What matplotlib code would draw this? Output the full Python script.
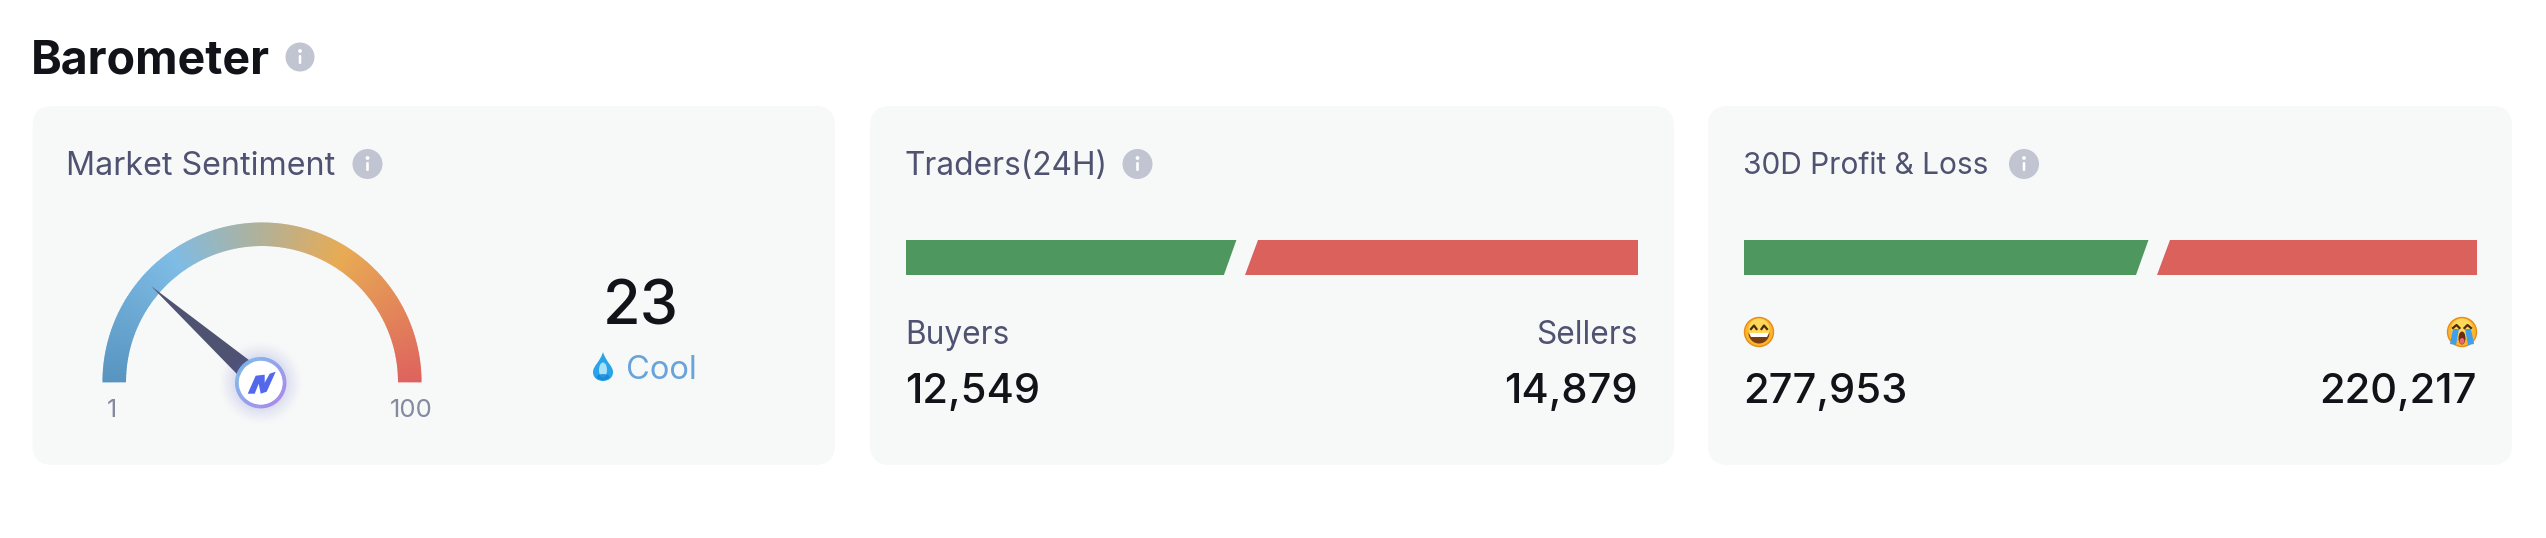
import numpy as np
import matplotlib
matplotlib.use("Agg")
import matplotlib.pyplot as plt
from matplotlib.patches import FancyBboxPatch, Circle, Polygon, Wedge, Ellipse, PathPatch
from matplotlib.path import Path
from matplotlib.colors import LinearSegmentedColormap

plt.rcParams['font.family'] = ['Inter', 'DejaVu Sans']

# ---- data ----
page_title = "Barometer"
card_titles = ["Market Sentiment", "Traders(24H)", "30D Profit & Loss"]
sentiment_value = 23
sentiment_label = "Cool"
gauge_min, gauge_max = "1", "100"
trader_labels = ["Buyers", "Sellers"]
trader_values = [12549, 14879]
pnl_values = [277953, 220217]

INK = "#111318"; MUTED = "#4f5270"; CARD = "#f7f9f9"; ICON = "#c1c4d1"
GREEN = "#4e975e"; RED = "#db615d"

fig = plt.figure(figsize=(25.46, 5.38), dpi=100, facecolor="white")
ax = fig.add_axes([0, 0, 1, 1])
ax.set_xlim(0, 2546); ax.set_ylim(538, 0); ax.axis("off")


def info(x, y, r=14.5):
    ax.add_patch(Circle((x, y), r, fc=ICON, ec="none", zorder=3))
    ax.add_patch(Circle((x, y - 6), 1.9, fc="white", ec="none", zorder=4))
    ax.add_patch(FancyBboxPatch((x - 1.3, y - 2), 2.6, 9, boxstyle="round,pad=0,rounding_size=1.2",
                                fc="white", ec="none", zorder=4))


def card(x0, x1, y0=106, y1=465):
    ax.add_patch(FancyBboxPatch((x0, y0), x1 - x0, y1 - y0, boxstyle="round,pad=0,rounding_size=20",
                                fc=CARD, ec="none", zorder=1))


ax.text(31, 56, page_title, fontsize=33.5, fontweight="bold", color=INK, va="center_baseline", ha="left", zorder=5)
info(300, 57)

cards = [(32.5, 835), (870, 1674), (1708, 2512)]
for (a, b) in cards:
    card(a, b)
title_x = [66.5, 904.5, 1743]
title_sizes = [23.2, 22.8, 21.5]
icon_x = [367.5, 1137.5, 2024]
for t, x, ix, fs in zip(card_titles, title_x, icon_x, title_sizes):
    ax.text(x, 163, t, fontsize=fs, color=MUTED, va="center_baseline", ha="left", zorder=5)
    info(ix, 164, 15)

# ---- gauge ----
cx, cy = 262, 382
R_out, R_in = 159.5, 136
cmap = LinearSegmentedColormap.from_list("gauge", [
    (0.00, "#5794bf"), (0.30, "#7ebce6"), (0.50, "#b2b198"),
    (0.68, "#e8ab54"), (1.00, "#de635e")])
n = 300
edges = np.linspace(180, 360, n + 1)
for i in range(n):
    ax.add_patch(Wedge((cx, cy), R_out, edges[i] - 0.15, edges[i + 1] + 0.15, width=R_out - R_in,
                       fc=cmap((i + .5) / n), ec="none", zorder=2))

# needle, angle from the value
frac = sentiment_value / 100
ang = np.pi * (1 - frac)
L = 146
u = np.array([np.cos(ang), -np.sin(ang)])
v = np.array([-u[1], u[0]])
c = np.array([260.7, 382.7])
ax.add_patch(Polygon([c + u * L, c + v * 11, c - v * 11], closed=True, fc=MUTED, ec="none", zorder=3))

# hub
for r, al in zip(np.arange(42, 26, -2), np.linspace(0.008, 0.03, 8)):
    ax.add_patch(Circle(c, r, fc="#6a6cf0", ec="none", alpha=al, zorder=3.5))
ring = LinearSegmentedColormap.from_list("ring", ["#7fb6ec", "#a48cec"])
m = 72
for i in range(m):
    a0 = i * 360 / m
    mid = np.deg2rad(a0 + 2.5)
    t = 0.5 + 0.5 * (np.sin(mid) * 0.7 + np.cos(mid) * 0.7) / 0.99
    ax.add_patch(Wedge(c, 25.7, a0 - .3, a0 + 360 / m + .3, width=4, fc=ring(t), ec="none", zorder=4))
ax.add_patch(Circle(c, 21.9, fc="white", ec="none", zorder=4))
logo = np.array([(-13, 11), (-5, -7), (4, -8), (4, 0), (9, -9), (15, -11), (6, 9), (0, 11),
                 (-2, 1), (-6, 11)], float)
ax.add_patch(Polygon(c + logo, closed=True, fc="#5468ec", ec="none", zorder=5))

ax.text(112, 408, gauge_min, fontsize=18, color="#878a9e", ha="center", va="center_baseline", zorder=5)
ax.text(411, 408, gauge_max, fontsize=18.5, color="#878a9e", ha="center", va="center_baseline", zorder=5)

ax.text(641, 302, str(sentiment_value), fontsize=44, fontweight=500, color=INK, ha="center", va="center_baseline", zorder=5)
ax.text(626, 367, sentiment_label, fontsize=23.5, color="#68a3dc", ha="left", va="center_baseline", zorder=5)
# droplet
dx, dy = 603, 352
drop = Path([(dx, dy), (dx + 3, dy + 10), (dx + 10, dy + 14), (dx + 10, dy + 20), (dx + 10, dy + 26), (dx + 5, dy + 29),
             (dx, dy + 29), (dx - 5, dy + 29), (dx - 10, dy + 26), (dx - 10, dy + 20), (dx - 10, dy + 14), (dx - 3, dy + 10), (dx, dy)],
            [Path.MOVETO] + [Path.CURVE4] * 12)
ax.add_patch(PathPatch(drop, fc="#28a4e8", ec="none", zorder=5))
ax.add_patch(Ellipse((dx, dy + 18), 8, 15, fc="#a8e0fa", ec="none", zorder=6))
ax.add_patch(Ellipse((dx, dy + 25), 13, 6, fc="#1285d8", ec="none", zorder=6, alpha=.8))


# ---- split bars ----
def split_bar(left, right, values, top=240, bottom=275, gap=21.5, skew=12.5):
    split = left + (right - left) * values[0] / sum(values)
    ax.add_patch(Polygon([(left, top), (split - gap / 2 + skew / 2, top), (split - gap / 2 - skew / 2, bottom), (left, bottom)],
                         closed=True, fc=GREEN, ec="none", zorder=3))
    ax.add_patch(Polygon([(split + gap / 2 + skew / 2, top), (right, top), (right, bottom), (split + gap / 2 - skew / 2, bottom)],
                         closed=True, fc=RED, ec="none", zorder=3))


split_bar(906, 1638, trader_values)
split_bar(1744, 2477, pnl_values)

ax.text(905, 332, trader_labels[0], fontsize=22.8, color=MUTED, ha="left", va="center_baseline", zorder=5)
ax.text(1638, 332, trader_labels[1], fontsize=22.8, color=MUTED, ha="right", va="center_baseline", zorder=5)
for x, ha, val in [(905, "left", trader_values[0]), (1638, "right", trader_values[1]),
                   (1743, "left", pnl_values[0]), (2477, "right", pnl_values[1])]:
    ax.text(x, 388, f"{val:,}", fontsize=30, fontweight=500, color=INK, ha=ha, va="center_baseline", zorder=5)


# ---- emoji faces, drawn ----
def face(x, y, happy=True, r=14.5):
    ax.add_patch(Circle((x, y), r, fc="#fbb62e", ec="#e88b16", lw=1, zorder=5))
    ax.add_patch(Circle((x, y - 3), r * .72, fc="#ffd75a", ec="none", zorder=5))
    if happy:
        for s in (-1, 1):
            ax.plot([x + s * 8, x + s * 5, x + s * 2.5], [y - 3, y - 6.5, y - 3], color="#4a2c10", lw=1.6, zorder=6)
        ax.add_patch(Wedge((x, y + 1), 10.5, 0, 180, fc="#7a3d10", ec="none", zorder=6))
        ax.add_patch(Polygon([(x - 10, y + 1), (x + 10, y + 1), (x + 8, y + 5), (x - 8, y + 5)], fc="white", ec="none", zorder=7))
    else:
        for s in (-1, 1):
            ax.plot([x + s * 9, x + s * 5.5, x + s * 2.5], [y - 4, y - 7, y - 4], color="#4a2c10", lw=1.6, zorder=6)
            ax.add_patch(Polygon([(x + s * 3, y - 3), (x + s * 9, y - 3), (x + s * 12, y + 12), (x + s * 6, y + 13)],
                                 fc="#3f9fe8", ec="none", zorder=6))
        ax.add_patch(Ellipse((x, y + 6), 7, 13, fc="#6b2d10", ec="none", zorder=7))
        ax.add_patch(Ellipse((x, y + 9), 5, 6, fc="#e8647a", ec="none", zorder=8))


face(1759, 332, True)
face(2462, 332, False)

fig.savefig("out.png", dpi=100, facecolor="white")
